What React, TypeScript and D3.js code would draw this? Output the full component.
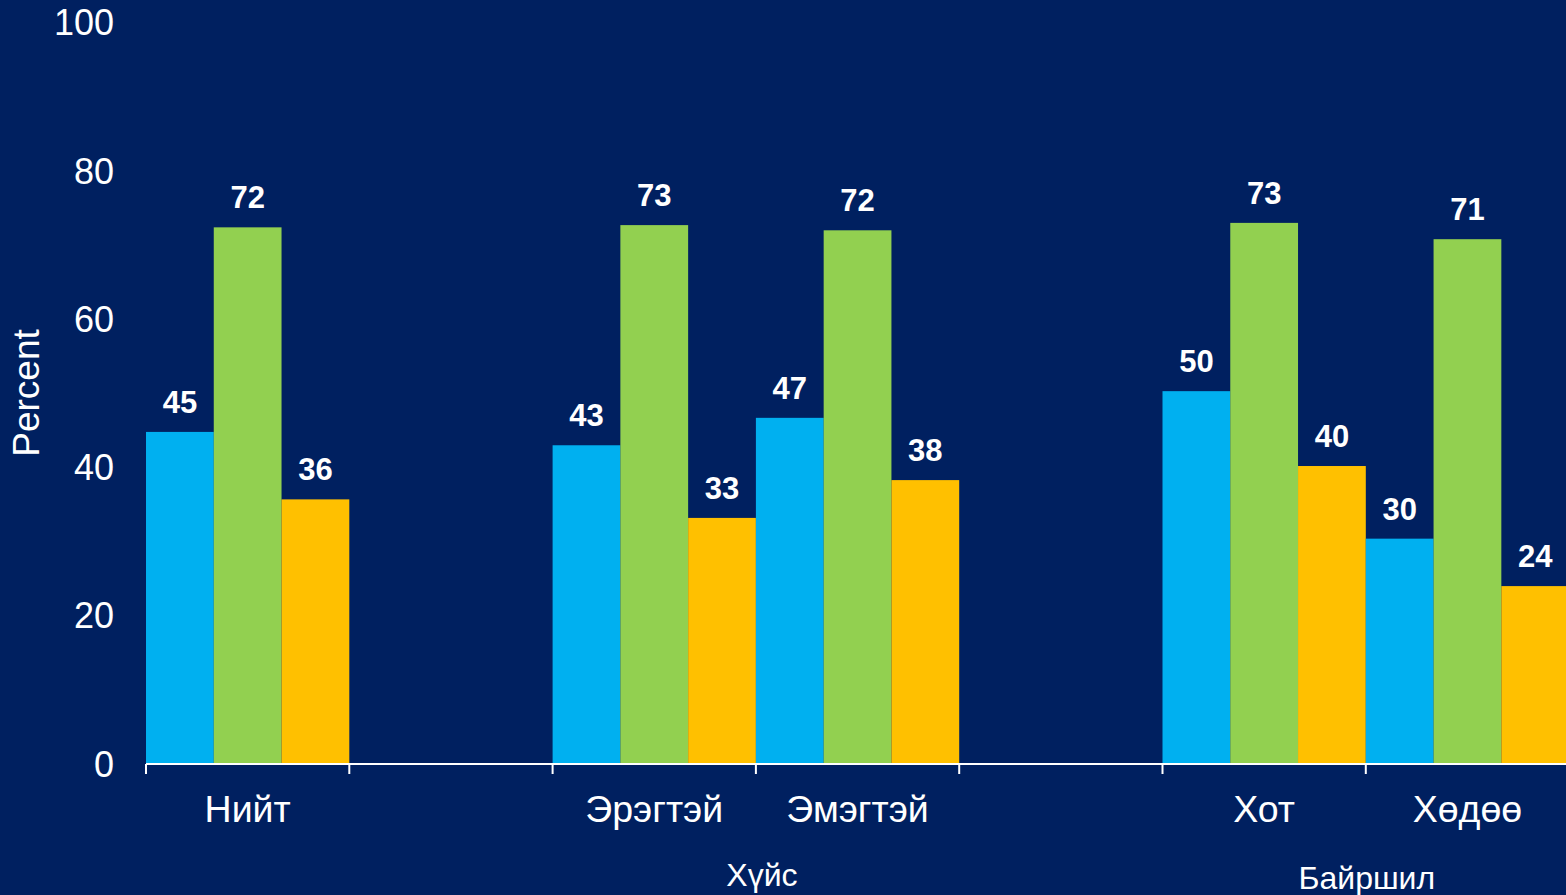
import React from "react";
import * as d3 from "d3";

const categories = ["Нийт", "", "Эрэгтэй", "Эмэгтэй", "", "Хот", "Хөдөө"];
const series1 = [44.8, null, 43.0, 46.7, null, 50.3, 30.4];
const series2 = [72.4, null, 72.7, 72.0, null, 73.0, 70.8];
const series3 = [35.7, null, 33.2, 38.3, null, 40.2, 24.0];
const seriesColors = ["#00B0F0", "#92D050", "#FFC000"];
const yTicks = [0, 20, 40, 60, 80, 100];
const groupLabels = [
  { label: "Хүйс", from: 2, to: 3 },
  { label: "Байршил", from: 5, to: 6 },
];

const W = 1566;
const H = 895;
const FONT = "'Liberation Sans', Arial, sans-serif";

export default function App() {
  const bandW = 203.3;
  const x0 = 146;
  const x = d3
    .scaleBand<number>()
    .domain(d3.range(categories.length))
    .range([x0, x0 + bandW * categories.length])
    .paddingInner(0)
    .paddingOuter(0);
  const xs = d3.scaleBand<number>().domain([0, 1, 2]).range([0, x.bandwidth()]).padding(0);
  const y = d3.scaleLinear().domain([0, 100]).range([764, 22.75]);
  const data = [series1, series2, series3];
  const fmt = d3.format(".0f");

  return (
    <svg
      width={W}
      height={H}
      style={{ position: "absolute", left: 0, top: 0, display: "block", background: "#002060" }}
    >
      <rect x={0} y={0} width={W} height={H} fill="#002060" />
      {yTicks.map((t) => (
        <text
          key={t}
          x={114}
          y={y(t)}
          dy="0.35em"
          textAnchor="end"
          fill="#fff"
          fontFamily={FONT}
          fontSize={36}
        >
          {t}
        </text>
      ))}
      <text
        transform={`translate(39,393) rotate(-90)`}
        textAnchor="middle"
        fill="#fff"
        fontFamily={FONT}
        fontSize={37}
      >
        Percent
      </text>
      {categories.map((c, i) =>
        data.map((s, si) => {
          const v = s[i];
          if (v == null) return null;
          const bx = (x(i) as number) + (xs(si) as number);
          return (
            <g key={`${i}-${si}`}>
              <rect
                x={bx}
                y={y(v)}
                width={xs.bandwidth()}
                height={y(0) - y(v)}
                fill={seriesColors[si]}
              />
              <text
                x={bx + xs.bandwidth() / 2}
                y={y(v) - 19}
                textAnchor="middle"
                fill="#fff"
                fontFamily={FONT}
                fontWeight="bold"
                fontSize={31}
              >
                {fmt(v)}
              </text>
            </g>
          );
        })
      )}
      <line x1={x0} x2={W} y1={y(0)} y2={y(0)} stroke="#fff" strokeWidth={2} />
      {d3.range(categories.length).map((i) => (
        <line
          key={i}
          x1={x(i) as number}
          x2={x(i) as number}
          y1={y(0)}
          y2={y(0) + 10}
          stroke="#fff"
          strokeWidth={2}
        />
      ))}
      {categories.map((c, i) => (
        <text
          key={i}
          x={(x(i) as number) + x.bandwidth() / 2}
          y={822}
          textAnchor="middle"
          fill="#fff"
          fontFamily={FONT}
          fontSize={37.5}
        >
          {c}
        </text>
      ))}
      {groupLabels.map((g) => (
        <text
          key={g.label}
          x={((x(g.from) as number) + (x(g.to) as number) + x.bandwidth()) / 2 + (g.label === "Хүйс" ? 6 : 1)}
          y={g.label === "Хүйс" ? 886 : 889}
          textAnchor="middle"
          fill="#fff"
          fontFamily={FONT}
          fontSize={32}
        >
          {g.label}
        </text>
      ))}
    </svg>
  );
}
